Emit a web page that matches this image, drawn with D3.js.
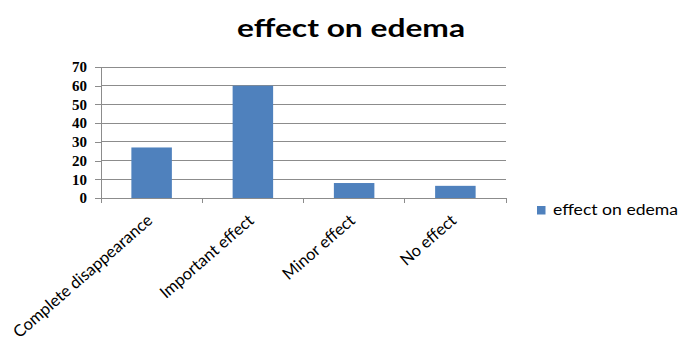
<!DOCTYPE html>
<html>
<head>
<meta charset="utf-8">
<script src="https://cdn.jsdelivr.net/npm/d3@7"></script>
<style>
  body { margin: 0; background: #fff; }
  svg { display: block; }
</style>
</head>
<body>
<svg id="chart" width="681" height="350"></svg>
<script>
// Response categories and counts for edema outcome
const categories = ["Complete disappearance", "Important effect", "Minor effect", "No effect"];
const values = [27, 60, 8, 6.5];
const yTicks = [0, 10, 20, 30, 40, 50, 60, 70];
const seriesName = "effect on edema";
const titleText = "effect on edema";

const svg = d3.select("#chart");
const margin = { left: 101, right: 175, top: 67, bottom: 152 };
const W = 681, H = 350;
const plotW = W - margin.left - margin.right;
const plotH = H - margin.top - margin.bottom;
const sans = "Lato, 'Open Sans', 'Liberation Sans', sans-serif";

const x = d3.scaleBand().domain(categories).range([0, plotW]).paddingInner(0.6).paddingOuter(0.3);
const xEdges = d3.scaleLinear().domain([0, categories.length]).range([0, plotW]);
const y = d3.scaleLinear().domain([0, 70]).range([plotH, 0]);

const g = svg.append("g").attr("transform", `translate(${margin.left},${margin.top})`);

// horizontal gridlines
g.append("g").selectAll("line").data(yTicks.filter(d => d > 0)).join("line")
  .attr("x1", 0).attr("x2", plotW)
  .attr("y1", d => y(d)).attr("y2", d => y(d))
  .attr("stroke", "#8c8c8c").attr("stroke-width", 1).attr("shape-rendering", "crispEdges");

// bars
g.append("g").selectAll("rect").data(values).join("rect")
  .attr("x", (d, i) => x(categories[i]))
  .attr("width", x.bandwidth())
  .attr("y", d => y(d))
  .attr("height", d => plotH - y(d))
  .attr("fill", "#4f81bd");

// y axis
const yAxis = d3.axisLeft(y).tickValues(yTicks).tickSize(6).tickPadding(8);
const ya = g.append("g").call(yAxis);
ya.select(".domain").attr("stroke", "#8c8c8c").attr("d", `M0,0V${plotH}`);
ya.selectAll(".tick line").attr("stroke", "#8c8c8c");
ya.selectAll("text")
  .attr("font-family", "'Liberation Serif', 'DejaVu Serif', serif")
  .attr("font-weight", "bold")
  .attr("font-size", 15)
  .attr("fill", "#000");
ya.attr("shape-rendering", "crispEdges");

// x axis baseline with ticks at category boundaries
const xa = g.append("g").attr("transform", `translate(0,${plotH})`);
xa.append("line").attr("x1", 0).attr("x2", plotW).attr("y1", 0).attr("y2", 0)
  .attr("stroke", "#8c8c8c").attr("shape-rendering", "crispEdges");
xa.selectAll("line.edge").data(d3.range(categories.length + 1)).join("line")
  .attr("class", "edge")
  .attr("x1", d => xEdges(d)).attr("x2", d => xEdges(d))
  .attr("y1", 0).attr("y2", 5)
  .attr("stroke", "#8c8c8c").attr("shape-rendering", "crispEdges");

// rotated category labels
xa.selectAll("text").data(categories).join("text")
  .attr("transform", d => `translate(${x(d) + x.bandwidth() / 2 + 2},${24}) rotate(-41)`)
  .attr("text-anchor", "end")
  .attr("font-family", sans)
  .attr("font-size", 16.5)
  .attr("fill", "#000")
  .text(d => d);

// title
svg.append("text")
  .attr("x", 237).attr("y", 37)
  .attr("font-family", sans)
  .attr("font-weight", "bold")
  .attr("font-size", 25)
  .attr("textLength", 228)
  .attr("lengthAdjust", "spacingAndGlyphs")
  .attr("fill", "#000")
  .text(titleText);

// legend
const lg = svg.append("g").attr("transform", "translate(537,206)");
lg.append("rect").attr("width", 8.5).attr("height", 8.5).attr("fill", "#4f81bd");
lg.append("text").attr("x", 16).attr("y", 9.3)
  .attr("font-family", sans)
  .attr("font-size", 14.5)
  .attr("textLength", 125)
  .attr("lengthAdjust", "spacingAndGlyphs")
  .attr("fill", "#000")
  .text(seriesName);
</script>
</body>
</html>
